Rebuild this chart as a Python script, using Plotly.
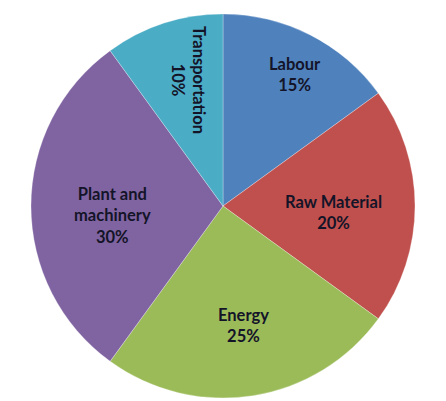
import plotly.graph_objects as go

labels = ["Labour", "Raw Material", "Energy", "Plant and<br>machinery", "Transportation"]
values = [15, 20, 25, 30, 10]
colors = ["#4F81BD", "#C0504D", "#9BBB59", "#8064A2", "#4BACC6"]

# page offset of the plot inside the browser body (default 8px body margin)
OFF = 8
W, H = 446 - OFF, 401 - OFF
cx, cy, r = 223 - OFF, 206 - OFF, 192

fig = go.Figure(go.Pie(
    labels=labels, values=values, sort=False, direction="clockwise", rotation=0,
    marker=dict(colors=colors, line=dict(color="rgba(255,255,255,0.35)", width=0.8)),
    textinfo="none",
    domain=dict(x=[(cx - r) / W, (cx + r) / W], y=[(H - cy - r) / H, (H - cy + r) / H]),
    showlegend=False, hoverinfo="label+percent",
))

# label anchor points (page pixels) and angles
label_xy = [(295, 74), (333, 212), (243, 325), (112, 215), (188, 80)]
label_angle = [0, 0, 0, 0, 90]
font = dict(family="Lato", size=16.5, color="#141428", weight="bold")
for lab, val, (px, py), ang in zip(labels, values, label_xy, label_angle):
    fig.add_annotation(
        x=(px - OFF) / W, y=1 - (py - OFF) / H, xref="paper", yref="paper",
        xanchor="center", yanchor="middle",
        text=f"{lab}<br>{val}%", textangle=ang, showarrow=False, font=font,
    )

fig.update_layout(width=W, height=H, margin=dict(l=0, r=0, t=0, b=0),
                  paper_bgcolor="white", plot_bgcolor="white")
fig.write_html("out.html")
